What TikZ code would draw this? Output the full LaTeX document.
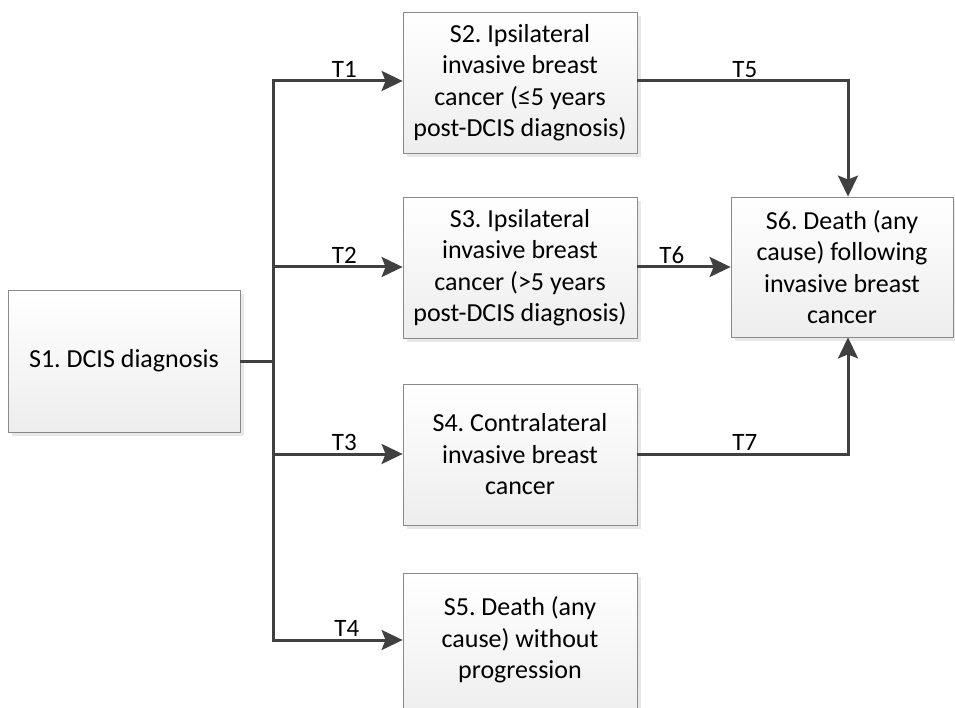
\documentclass[tikz,border=0pt]{standalone}
\usepackage{fontspec}
\setmainfont{Carlito}
\frenchspacing
\usetikzlibrary{arrows.meta,shadows}
\definecolor{linec}{HTML}{404040}
\definecolor{boxborder}{HTML}{8A8A8A}
\begin{document}
\begin{tikzpicture}[x=1pt,y=-1pt,
  statebox/.style={draw=boxborder, line width=0.8pt, top color=white, bottom color=gray!14,
    drop shadow={shadow xshift=4pt, shadow yshift=-4pt, fill=gray!30, opacity=0.6},
    align=center, font=\fontsize{26}{31.5}\selectfont, inner sep=0pt},
  conn/.style={draw=linec, line width=3pt},
  arr/.style={conn, -{Stealth[length=21pt,width=20pt,inset=4pt]}},
  tlabel/.style={font=\fontsize{25}{28}\selectfont, anchor=south, inner sep=2pt}]
\useasboundingbox (0,0) rectangle (955,708);
\fill[white] (0,0) rectangle (955,708);
\node[statebox, minimum width=232pt, minimum height=142pt] (s1) at (124,361) {S1. DCIS diagnosis};
\node[statebox, minimum width=234pt, minimum height=141pt] (s2) at (520,82.5) {S2. Ipsilateral\\invasive breast\\cancer (≤5 years\\post-DCIS diagnosis)};
\node[statebox, minimum width=234pt, minimum height=141pt] (s3) at (520,267.5) {S3. Ipsilateral\\invasive breast\\cancer (>5 years\\post-DCIS diagnosis)};
\node[statebox, minimum width=234pt, minimum height=141pt] (s4) at (520,454.5) {S4. Contralateral\\invasive breast\\cancer};
\node[statebox, minimum width=234pt, minimum height=150pt] (s5) at (520,648) {};
\node[align=center, font=\fontsize{26}{31.5}\selectfont, inner sep=0pt] (s5t) at (520,640) {S5. Death (any\\cause) without\\progression};
\node[statebox, minimum width=222pt, minimum height=140pt] (s6) at (842,267) {S6. Death (any\\cause) following\\invasive breast\\cancer};
\coordinate (j) at (273,361);
\coordinate (jt) at (273,81);
\coordinate (jb) at (273,640);
\coordinate (c5) at (848,81);
\coordinate (c7) at (848,454);
\draw[conn] (s1.east) -- (j);
\draw[conn, line cap=rect] (jt) -- (jb);
\draw[arr] (jt) -- (s2.west |- jt) node[tlabel, pos=0.55] {T1};
\draw[arr] (273,267) -- (s3.west |- 0,267) node[tlabel, pos=0.55] {T2};
\draw[arr] (273,454) -- (s4.west |- 0,454) node[tlabel, pos=0.55] {T3};
\draw[arr] (jb) -- (s5.west |- jb) node[tlabel, pos=0.57] {T4};
\draw[arr] (s2.east |- c5) -- (c5) node[tlabel, pos=0.51] {T5} -- (s6.north -| c5);
\draw[arr] (s3.east |- 0,267) -- (s6.west |- 0,267) node[tlabel, pos=0.37] {T6};
\draw[arr] (s4.east |- c7) -- (c7) node[tlabel, pos=0.51] {T7} -- (s6.south -| c7);
\end{tikzpicture}
\end{document}
